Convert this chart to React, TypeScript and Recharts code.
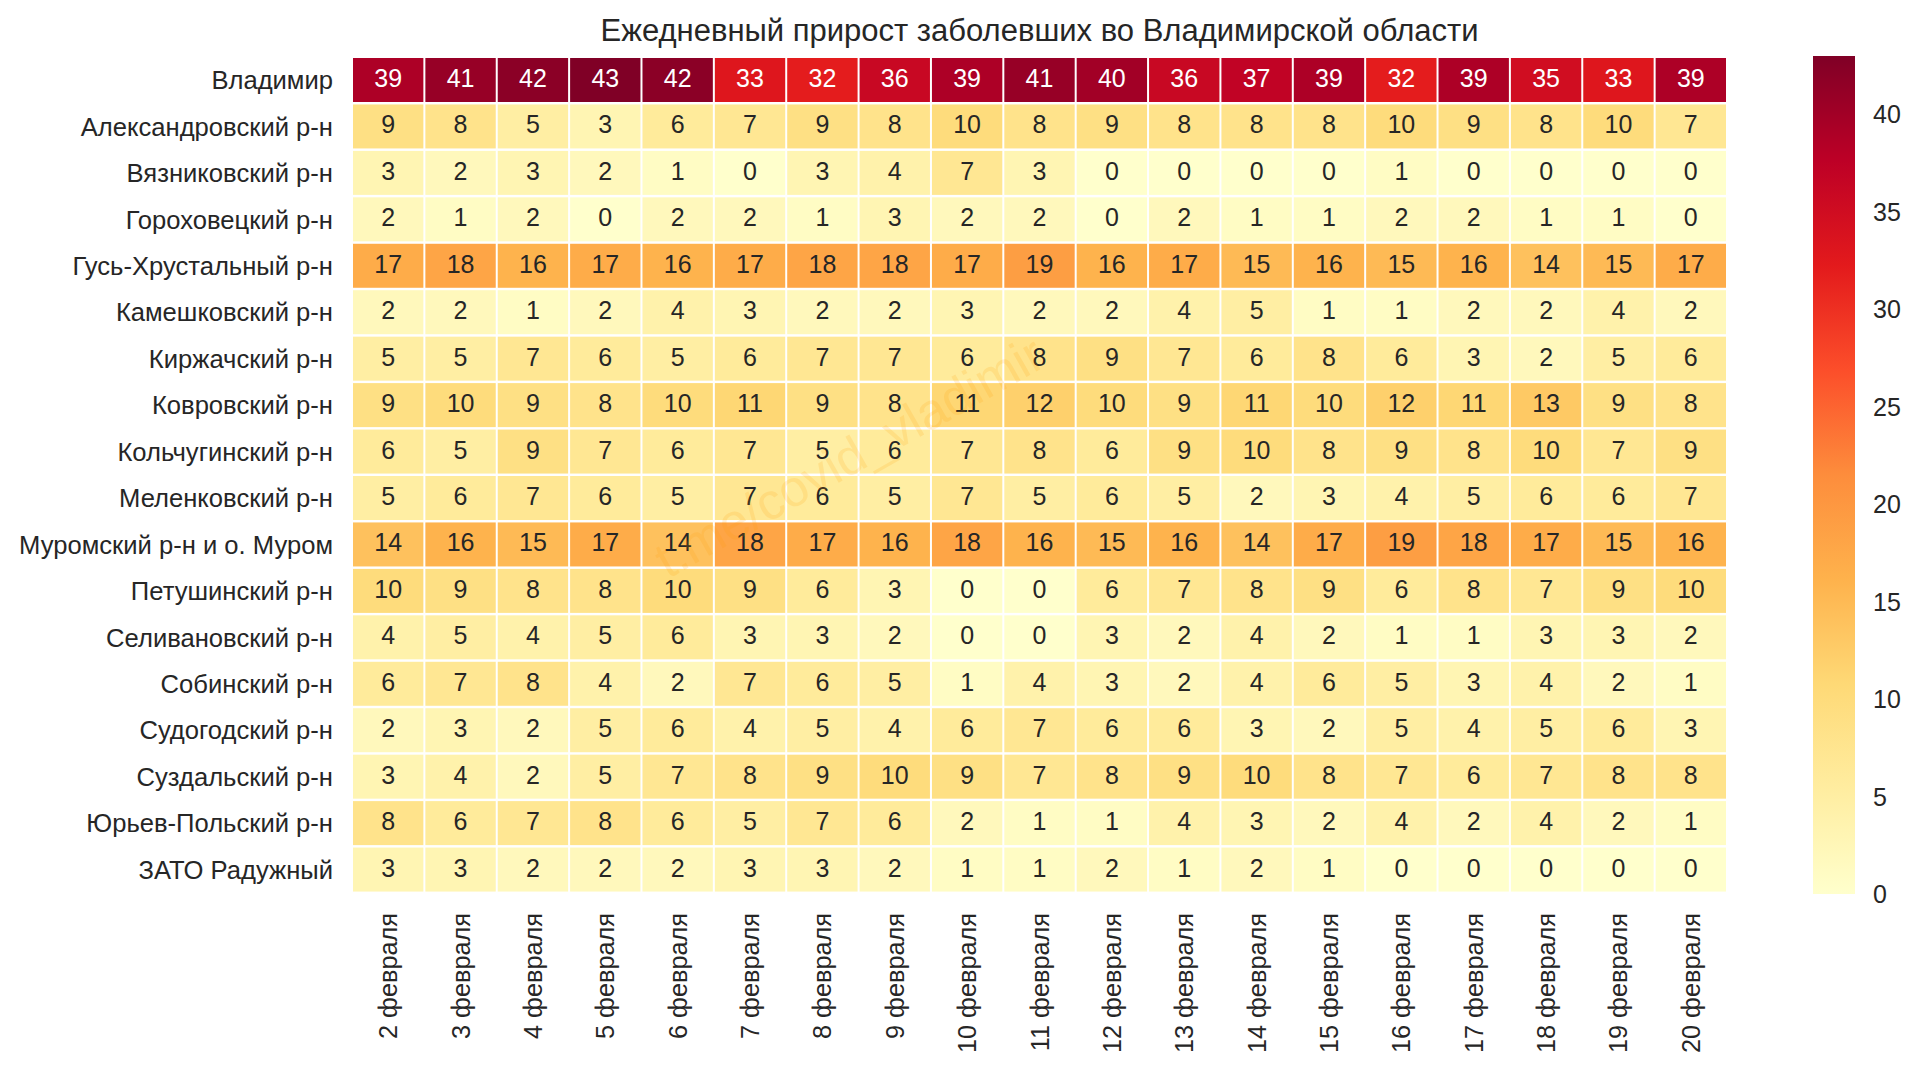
import { BarChart, Bar, XAxis, YAxis } from 'recharts'

// районы сверху вниз
const regions = [
  'Владимир',
  'Александровский р-н',
  'Вязниковский р-н',
  'Гороховецкий р-н',
  'Гусь-Хрустальный р-н',
  'Камешковский р-н',
  'Киржачский р-н',
  'Ковровский р-н',
  'Кольчугинский р-н',
  'Меленковский р-н',
  'Муромский р-н и о. Муром',
  'Петушинский р-н',
  'Селивановский р-н',
  'Собинский р-н',
  'Судогодский р-н',
  'Суздальский р-н',
  'Юрьев-Польский р-н',
  'ЗАТО Радужный',
]

const dates = [
  '2 февраля', '3 февраля', '4 февраля', '5 февраля', '6 февраля', '7 февраля',
  '8 февраля', '9 февраля', '10 февраля', '11 февраля', '12 февраля', '13 февраля',
  '14 февраля', '15 февраля', '16 февраля', '17 февраля', '18 февраля', '19 февраля',
  '20 февраля',
]

const vladimir = [39, 41, 42, 43, 42, 33, 32, 36, 39, 41, 40, 36, 37, 39, 32, 39, 35, 33, 39]
const aleksandrov = [9, 8, 5, 3, 6, 7, 9, 8, 10, 8, 9, 8, 8, 8, 10, 9, 8, 10, 7]
const vyazniki = [3, 2, 3, 2, 1, 0, 3, 4, 7, 3, 0, 0, 0, 0, 1, 0, 0, 0, 0]
const gorokhovets = [2, 1, 2, 0, 2, 2, 1, 3, 2, 2, 0, 2, 1, 1, 2, 2, 1, 1, 0]
const gusKhrustalny = [17, 18, 16, 17, 16, 17, 18, 18, 17, 19, 16, 17, 15, 16, 15, 16, 14, 15, 17]
const kameshkovo = [2, 2, 1, 2, 4, 3, 2, 2, 3, 2, 2, 4, 5, 1, 1, 2, 2, 4, 2]
const kirzhach = [5, 5, 7, 6, 5, 6, 7, 7, 6, 8, 9, 7, 6, 8, 6, 3, 2, 5, 6]
const kovrov = [9, 10, 9, 8, 10, 11, 9, 8, 11, 12, 10, 9, 11, 10, 12, 11, 13, 9, 8]
const kolchugino = [6, 5, 9, 7, 6, 7, 5, 6, 7, 8, 6, 9, 10, 8, 9, 8, 10, 7, 9]
const melenki = [5, 6, 7, 6, 5, 7, 6, 5, 7, 5, 6, 5, 2, 3, 4, 5, 6, 6, 7]
const murom = [14, 16, 15, 17, 14, 18, 17, 16, 18, 16, 15, 16, 14, 17, 19, 18, 17, 15, 16]
const petushki = [10, 9, 8, 8, 10, 9, 6, 3, 0, 0, 6, 7, 8, 9, 6, 8, 7, 9, 10]
const selivanovo = [4, 5, 4, 5, 6, 3, 3, 2, 0, 0, 3, 2, 4, 2, 1, 1, 3, 3, 2]
const sobinka = [6, 7, 8, 4, 2, 7, 6, 5, 1, 4, 3, 2, 4, 6, 5, 3, 4, 2, 1]
const sudogda = [2, 3, 2, 5, 6, 4, 5, 4, 6, 7, 6, 6, 3, 2, 5, 4, 5, 6, 3]
const suzdal = [3, 4, 2, 5, 7, 8, 9, 10, 9, 7, 8, 9, 10, 8, 7, 6, 7, 8, 8]
const yuryevPolsky = [8, 6, 7, 8, 6, 5, 7, 6, 2, 1, 1, 4, 3, 2, 4, 2, 4, 2, 1]
const raduzhny = [3, 3, 2, 2, 2, 3, 3, 2, 1, 1, 2, 1, 2, 1, 0, 0, 0, 0, 0]

const values = [
  vladimir, aleksandrov, vyazniki, gorokhovets, gusKhrustalny, kameshkovo,
  kirzhach, kovrov, kolchugino, melenki, murom, petushki, selivanovo, sobinka,
  sudogda, suzdal, yuryevPolsky, raduzhny,
]

const colorbarTicks = [0, 5, 10, 15, 20, 25, 30, 35, 40]
const VMAX = 43

// YlOrRd
const stops = ['#ffffcc', '#ffeda0', '#fed976', '#feb24c', '#fd8d3c', '#fc4e2a', '#e31a1c', '#bd0026', '#800026']

const FONT = "'Liberation Sans', Arial, sans-serif"
const INK = '#262626'

const hexToRgb = (h: string) => [1, 3, 5].map((i) => parseInt(h.slice(i, i + 2), 16))

function cmap(v: number) {
  const t = Math.max(0, Math.min(1, v / VMAX)) * (stops.length - 1)
  const i = Math.min(Math.floor(t), stops.length - 2)
  const f = t - i
  const a = hexToRgb(stops[i])
  const b = hexToRgb(stops[i + 1])
  return a.map((c, k) => Math.round(c + (b[k] - c) * f))
}

function textColor(rgb: number[]) {
  const lin = rgb.map((c) => {
    const s = c / 255
    return s <= 0.03928 ? s / 12.92 : Math.pow((s + 0.055) / 1.055, 2.4)
  })
  const lum = 0.2126 * lin[0] + 0.7152 * lin[1] + 0.0722 * lin[2]
  return lum > 0.408 ? INK : '#ffffff'
}

// каждая клетка - отрезок длины 1 в стопке строки
const tableData = regions.map((region, r) => {
  const row: any = { region, row: r }
  dates.forEach((_, c) => { row['c' + c] = 1 })
  return row
})

const colTicks = dates.map((_, i) => i + 0.5)

function makeCell(col: number) {
  return (props: any) => {
    const { x, y, width, height, payload, index } = props
    const r = payload?.row ?? index
    const v = values[r][col]
    const rgb = cmap(v)
    return (
      <g>
        <rect x={x + 1} y={y + 1} width={width - 2} height={height - 2} fill={`rgb(${rgb.join(',')})`} />
        <text
          x={x + width / 2}
          y={y + height / 2}
          dy={7}
          textAnchor="middle"
          fontSize={25}
          fontFamily={FONT}
          fill={textColor(rgb)}
        >
          {v}
        </text>
      </g>
    )
  }
}

const RegionTick = ({ x, y, payload }: any) => (
  <text x={x} y={y} dy={9} textAnchor="end" fontSize={25.6} fontFamily={FONT} fill={INK}>
    {payload.value}
  </text>
)

const DateTick = ({ x, y, payload }: any) => (
  <text
    x={x}
    y={y}
    dy={9}
    transform={`rotate(-90, ${x}, ${y})`}
    textAnchor="end"
    fontSize={25.3}
    fontFamily={FONT}
    fill={INK}
  >
    {dates[Math.floor(payload.value)]}
  </text>
)

const ColorbarTick = ({ x, y, payload }: any) => (
  <text x={x} y={y} dy={9} textAnchor="start" fontSize={25} fontFamily={FONT} fill={INK}>
    {payload.value}
  </text>
)

export default function App() {
  return (
    <div style={{ position: 'absolute', left: 0, top: 0, width: 1920, height: 1073, background: '#fff', fontFamily: FONT }}>
      <div style={{ position: 'absolute', left: 0, top: 0 }}>
        <BarChart
          width={1740}
          height={1073}
          data={tableData}
          layout="vertical"
          margin={{ top: 57, right: 13, bottom: 0, left: 0 }}
          barCategoryGap={0}
          barGap={0}
        >
          <XAxis
            type="number"
            domain={[0, 19]}
            ticks={colTicks}
            interval={0}
            height={180}
            axisLine={false}
            tickLine={false}
            tickSize={0}
            tickMargin={20}
            tick={<DateTick />}
          />
          <YAxis
            type="category"
            dataKey="region"
            width={352}
            interval={0}
            axisLine={false}
            tickLine={false}
            tickSize={0}
            tickMargin={19}
            tick={<RegionTick />}
          />
          {dates.map((d, c) => (
            <Bar
              key={d}
              dataKey={'c' + c}
              stackId="cells"
              isAnimationActive={false}
              shape={makeCell(c)}
            />
          ))}
        </BarChart>
      </div>

      <div style={{ position: 'absolute', left: 1813, top: 0 }}>
        <BarChart
          width={107}
          height={1073}
          data={[{ name: 'cb', v: VMAX }]}
          margin={{ top: 56, right: 0, bottom: 179, left: 0 }}
          barCategoryGap={0}
        >
          <defs>
            <linearGradient id="cbGrad" x1="0" y1="1" x2="0" y2="0">
              {stops.map((s, i) => (
                <stop key={s} offset={i / (stops.length - 1)} stopColor={s} />
              ))}
            </linearGradient>
          </defs>
          <XAxis dataKey="name" hide />
          <YAxis
            orientation="right"
            type="number"
            domain={[0, VMAX]}
            ticks={colorbarTicks}
            interval={0}
            width={65}
            axisLine={false}
            tickLine={false}
            tickSize={0}
            tickMargin={18}
            tick={<ColorbarTick />}
          />
          <Bar dataKey="v" fill="url(#cbGrad)" isAnimationActive={false} />
        </BarChart>
      </div>

      <svg
        width={1920}
        height={1073}
        style={{ position: 'absolute', left: 0, top: 0, pointerEvents: 'none' }}
      >
        <text x={1039.5} y={41} textAnchor="middle" fontSize={31} fontFamily={FONT} fill={INK}>
          Ежедневный прирост заболевших во Владимирской области
        </text>
        <text
          x={858}
          y={472}
          transform="rotate(-29.4, 858, 472)"
          textAnchor="middle"
          fontSize={51}
          fontFamily={FONT}
          fill="#ff9900"
          fillOpacity={0.15}
        >
          t.me/covid_vladimir
        </text>
      </svg>
    </div>
  )
}
